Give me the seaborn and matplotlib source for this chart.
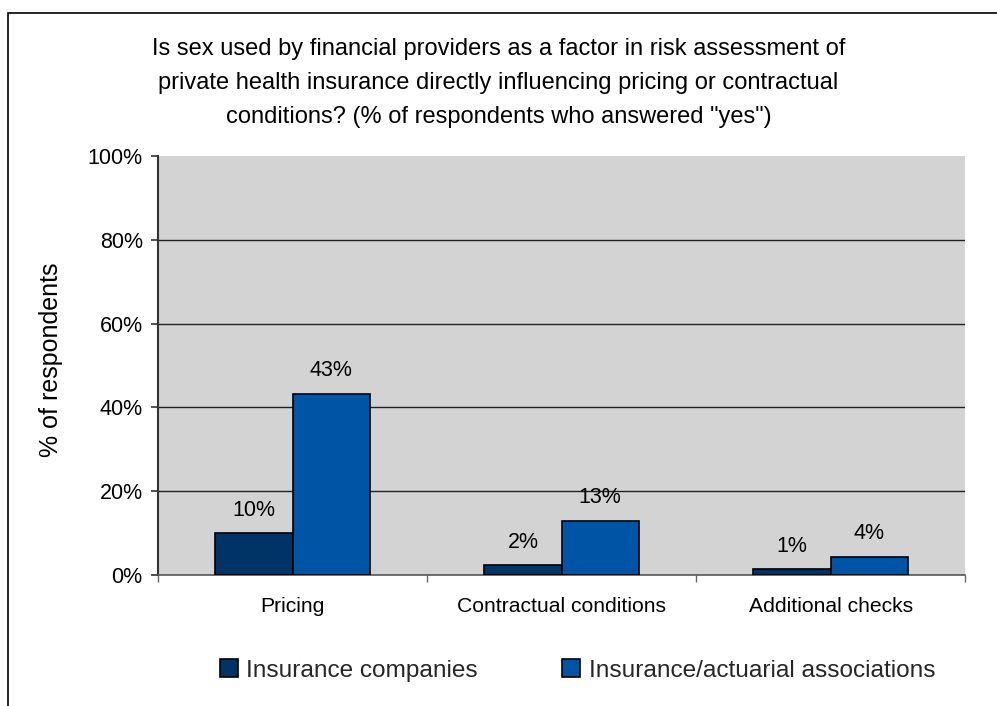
import matplotlib
matplotlib.use("Agg")
import matplotlib.pyplot as plt
from matplotlib.patches import Rectangle
from matplotlib.ticker import FixedLocator, PercentFormatter
import pandas as pd
import seaborn as sns

categories = ["Pricing", "Contractual conditions", "Additional checks"]
series_names = ["Insurance companies", "Insurance/actuarial associations"]
companies = [10.0, 2.3, 1.4]
associations = [43.3, 12.9, 4.3]
y_ticks = [0, 20, 40, 60, 80, 100]

title = ("Is sex used by financial providers as a factor in risk assessment of\n"
         "private health insurance directly influencing pricing or contractual\n"
         "conditions? (% of respondents who answered \"yes\")")

df = pd.DataFrame({
    "category": categories * 2,
    "series": [series_names[0]] * 3 + [series_names[1]] * 3,
    "value": companies + associations,
})

sns.set_theme(style="white")
plt.rcParams["font.family"] = ["Liberation Sans", "DejaVu Sans"]

fig = plt.figure(figsize=(9.97, 7.06), dpi=100)
fig.patches.append(Rectangle((0.008, -0.05), 1.2, 1.031, transform=fig.transFigure,
                             fill=False, edgecolor="black", linewidth=1.2, zorder=0))
ax = fig.add_axes([0.1585, 0.1856, 0.8095, 0.5934])
ax.set_facecolor("#d3d3d3")

palette = ["#003366", "#0054a6"]
sns.barplot(data=df, x="category", y="value", hue="series", palette=palette,
            width=0.575, saturation=1, edgecolor="black", linewidth=1.2,
            ax=ax, legend=True, zorder=3)

for cont in ax.containers:
    ax.bar_label(cont, labels=[f"{v:.0f}%" for v in cont.datavalues],
                 padding=9, fontsize=15.5, color="black")

ax.set_ylim(0, 100)
ax.set_xlim(-0.5, 2.5)
ax.yaxis.set_major_locator(FixedLocator(y_ticks))
ax.yaxis.set_major_formatter(PercentFormatter(decimals=0))
ax.tick_params(axis="y", left=True, length=5, width=1.2, color="#333333",
               labelsize=15.5, pad=6, labelcolor="black")
ax.tick_params(axis="x", which="major", length=0, labelsize=15.2, pad=16, labelcolor="black")
ax.xaxis.set_minor_locator(FixedLocator([-0.5, 0.5, 1.5, 2.5]))
ax.tick_params(axis="x", which="minor", bottom=True, length=5, width=1, color="#666666")

ax.yaxis.grid(True, color="#222222", linewidth=1.0, zorder=1)
ax.set_axisbelow(True)
ax.get_ygridlines()[-1].set_visible(False)
ax.get_ygridlines()[0].set_visible(False)

for side in ["top", "right"]:
    ax.spines[side].set_visible(False)
ax.spines["left"].set_color("#333333")
ax.spines["left"].set_linewidth(1.5)
ax.spines["bottom"].set_color("#555555")
ax.spines["bottom"].set_linewidth(1.2)

ax.set_xlabel("")
ax.set_ylabel("% of respondents", fontsize=18, color="black")
ax.yaxis.set_label_coords(-0.118, 0.514)
fig.text(0.5, 1 - 83 / 706, title, ha="center", va="center", multialignment="center",
         fontsize=17, linespacing=1.7, color="black")

handles, labels = ax.get_legend_handles_labels()
ax.legend(handles, labels, loc="center", bbox_to_anchor=(0.52, -0.228),
          ncol=2, frameon=False, fontsize=17.6, handlelength=0.72, handleheight=0.72,
          handletextpad=0.35, columnspacing=3.45)

fig.savefig("out.png", dpi=100)
